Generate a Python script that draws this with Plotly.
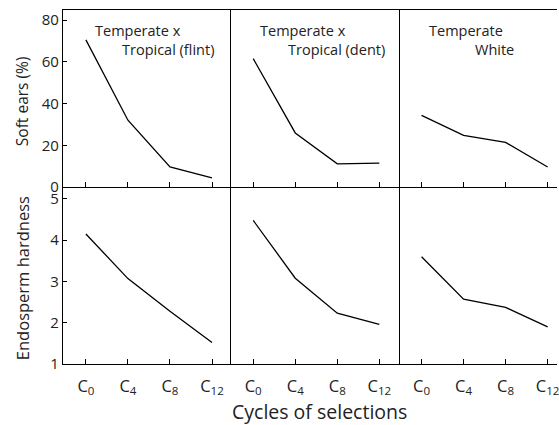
import plotly.graph_objects as go

cycles = ["C0", "C4", "C8", "C12"]
cycle_labels = ["C<sub>0</sub>", "C<sub>4</sub>", "C<sub>8</sub>", "C<sub>12</sub>"]
groups = ["Temperate x<br>Tropical (flint)", "Temperate x<br>Tropical (dent)", "Temperate<br>White"]
soft_ears_flint = [70.5, 32, 9.6, 4.4]
soft_ears_dent = [61.5, 25.9, 11.1, 11.4]
soft_ears_white = [34.3, 24.7, 21.4, 9.6]
hardness_flint = [4.15, 3.07, 2.28, 1.52]
hardness_dent = [4.48, 3.08, 2.23, 1.96]
hardness_white = [3.6, 2.57, 2.37, 1.9]
soft_ticks = [0, 20, 40, 60, 80]
hard_ticks = [1, 2, 3, 4, 5]

FONT = "Open Sans"
W, H = 559, 425
L, R, T, B = 63, 0, 10, 61
pw = W - L - R
ph = H - T - B

def px_x(p):
    return (p - L) / pw

def px_y(p):
    return (H - B - p) / ph

x_bounds = [(63, 232), (232, 401), (401, 559)]
c0_px = [86, 254, 423]
step = 42.2
x_ranges = []
for (a, b), c in zip(x_bounds, c0_px):
    x_ranges.append([(a - c) / step, (b - c) / step])

top_series = [soft_ears_flint, soft_ears_dent, soft_ears_white]
bot_series = [hardness_flint, hardness_dent, hardness_white]

fig = go.Figure()
xi = list(range(len(cycles)))
line = dict(color="black", width=1.3)
for i in range(3):
    fig.add_trace(go.Scatter(x=xi, y=top_series[i], mode="lines", line=line,
                             xaxis=f"x{2*i+1}" if i else "x", yaxis=f"y{2*i+1}" if i else "y",
                             showlegend=False, hoverinfo="skip"))
    fig.add_trace(go.Scatter(x=xi, y=bot_series[i], mode="lines", line=line,
                             xaxis=f"x{2*i+2}", yaxis=f"y{2*i+2}",
                             showlegend=False, hoverinfo="skip"))

layout = dict(width=W, height=H, margin=dict(l=L, r=R, t=T, b=B),
              paper_bgcolor="white", plot_bgcolor="white",
              font=dict(family=FONT, color="#222", size=14))

y_top_dom = [px_y(187), 1]
y_bot_dom = [0, px_y(187)]
for i in range(3):
    xd = [max(0, px_x(x_bounds[i][0])), min(1, px_x(x_bounds[i][1]))]
    nt = 2 * i + 1
    nb = 2 * i + 2
    kt = "" if nt == 1 else str(nt)
    kb = str(nb)
    common_x = dict(domain=xd, range=x_ranges[i], tickmode="array", tickvals=xi,
                    showline=True, linecolor="black", linewidth=1.3, showgrid=False,
                    zeroline=False, ticks="inside", ticklen=5, tickwidth=1, tickcolor="black",
                    fixedrange=True)
    layout["xaxis" + kt] = dict(common_x, anchor="y" + kt, mirror=True, showticklabels=False)
    layout["xaxis" + kb] = dict(common_x, anchor="y" + kb, ticktext=cycle_labels,
                                 tickfont=dict(size=16.5, family=FONT, color="#222"),
                                 ticklabelstandoff=7, ticklabeloverflow="allow")
    common_y = dict(showline=True, linecolor="black", linewidth=1.3, showgrid=False,
                    zeroline=False, fixedrange=True)
    yt = dict(common_y, domain=y_top_dom, range=[0, 84.8], anchor="x" + kt)
    yb = dict(common_y, domain=y_bot_dom, range=[1, 5.29], anchor="x" + kb)
    if i == 0:
        yt.update(tickmode="array", tickvals=soft_ticks, ticks="inside", ticklen=4,
                  tickcolor="black", tickfont=dict(size=15, family=FONT, color="#222"))
        yb.update(tickmode="array", tickvals=hard_ticks, ticks="inside", ticklen=4,
                  tickcolor="black", tickfont=dict(size=15, family=FONT, color="#222"))
    else:
        yt.update(showticklabels=False, ticks="")
        yb.update(showticklabels=False, ticks="")
    layout["yaxis" + kt] = yt
    layout["yaxis" + kb] = yb

fig.update_layout(**layout)

# panel labels
label_pos = [
    [("Temperate x", 93, 31), ("Tropical (flint)", 120, 49)],
    [("Temperate x", 259, 31), ("Tropical (dent)", 287, 49)],
    [("Temperate", 428, 31), ("White", 475, 49)],
]
for grp in label_pos:
    for txt, xp, yp in grp:
        fig.add_annotation(text=txt, xref="paper", yref="paper", x=px_x(xp), y=px_y(yp),
                           xanchor="left", yanchor="middle", showarrow=False,
                           font=dict(size=14.5, family=FONT, color="#222"))

fig.add_annotation(text="Soft ears (%)", xref="paper", yref="paper", x=px_x(22), y=px_y(101),
                   textangle=-90, showarrow=False, xanchor="center", yanchor="middle",
                   font=dict(size=15.5, family=FONT, color="#222"))
fig.add_annotation(text="Endosperm hardness", xref="paper", yref="paper", x=px_x(22), y=px_y(278),
                   textangle=-90, showarrow=False, xanchor="center", yanchor="middle",
                   font=dict(size=16.5, family=FONT, color="#222"))
fig.add_annotation(text="Cycles of selections", xref="paper", yref="paper", x=px_x(321), y=px_y(411),
                   showarrow=False, xanchor="center", yanchor="middle",
                   font=dict(size=19.5, family=FONT, color="#222"))

fig.write_html("out.html")
